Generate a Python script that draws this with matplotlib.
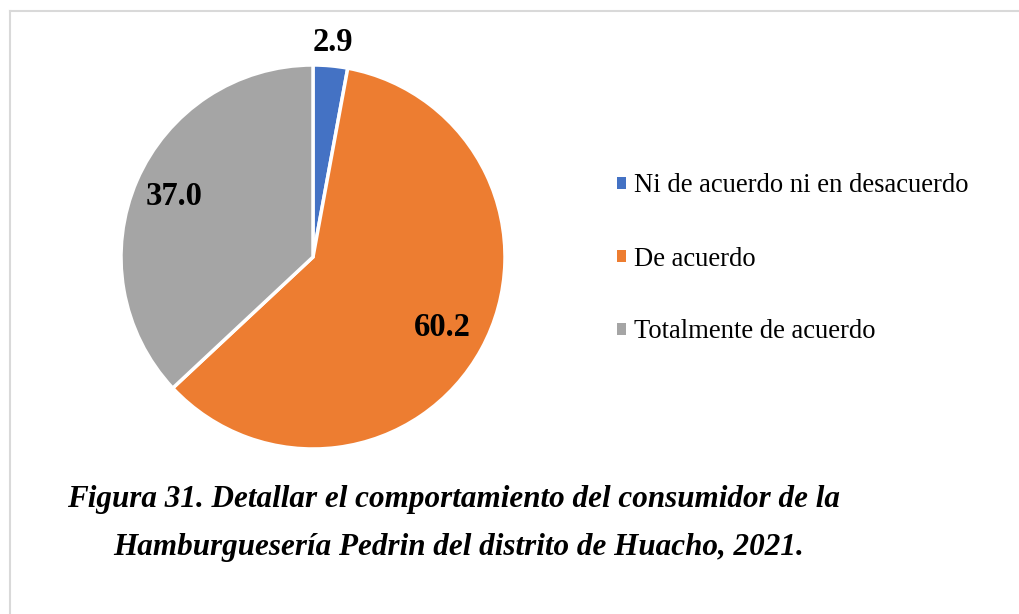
import numpy as np
import matplotlib
matplotlib.use("Agg")
import matplotlib.pyplot as plt
from matplotlib.patches import Patch
from matplotlib.lines import Line2D

categories = ["Ni de acuerdo ni en desacuerdo", "De acuerdo", "Totalmente de acuerdo"]
values = [2.9, 60.2, 37.0]
value_labels = ["2.9", "60.2", "37.0"]
colors = ["#4472C4", "#ED7D31", "#A5A5A5"]
title_lines = ["Figura 31. Detallar el comportamiento del consumidor de la",
               "Hamburguesería Pedrin del distrito de Huacho, 2021."]

plt.rcParams['font.family'] = ['Liberation Serif', 'DejaVu Serif']

W, H = 1019, 614
fig = plt.figure(figsize=(W / 100, H / 100), dpi=100)
fig.patch.set_facecolor("white")

# border lines (top and left)
fig.add_artist(Line2D([10 / W, 1], [1 - 11 / H, 1 - 11 / H], color="#D9D9D9", lw=1.5))
fig.add_artist(Line2D([10 / W, 10 / W], [0, 1 - 11 / H], color="#D9D9D9", lw=1.5))

cx, cy, r = 313, 257, 192
ax = fig.add_axes([(cx - r) / W, (H - cy - r) / H, 2 * r / W, 2 * r / H])
wedges, _ = ax.pie(values, colors=colors, startangle=90, counterclock=False,
                   radius=1, wedgeprops=dict(edgecolor="white", linewidth=2.5))
ax.set_xlim(-1, 1)
ax.set_ylim(-1, 1)
ax.set_aspect("equal")
ax.axis("off")

label_r = [1.12, 0.77, 0.79]
for w, lab, lr in zip(wedges, value_labels, label_r):
    ang = np.deg2rad((w.theta1 + w.theta2) / 2)
    ax.text(lr * np.cos(ang), lr * np.sin(ang), lab, ha="center", va="center",
            fontsize=23.5, fontweight="bold", clip_on=False)

handles = [Patch(facecolor=c, edgecolor="none") for c in colors]
fig.legend(handles, categories, loc="center left",
           bbox_to_anchor=(617 / W, 1 - 259 / H), frameon=False,
           fontsize=19.2, handlelength=0.32, handleheight=0.32,
           handletextpad=0.3, labelspacing=1.80, borderaxespad=0, borderpad=0)

fig.text(454 / W, 1 - 500 / H, title_lines[0], ha="center", va="center",
         fontsize=22.4, fontweight="bold", fontstyle="italic")
fig.text(459 / W, 1 - 548 / H, title_lines[1], ha="center", va="center",
         fontsize=22.4, fontweight="bold", fontstyle="italic")

fig.savefig("out.png", dpi=100, facecolor="white")
